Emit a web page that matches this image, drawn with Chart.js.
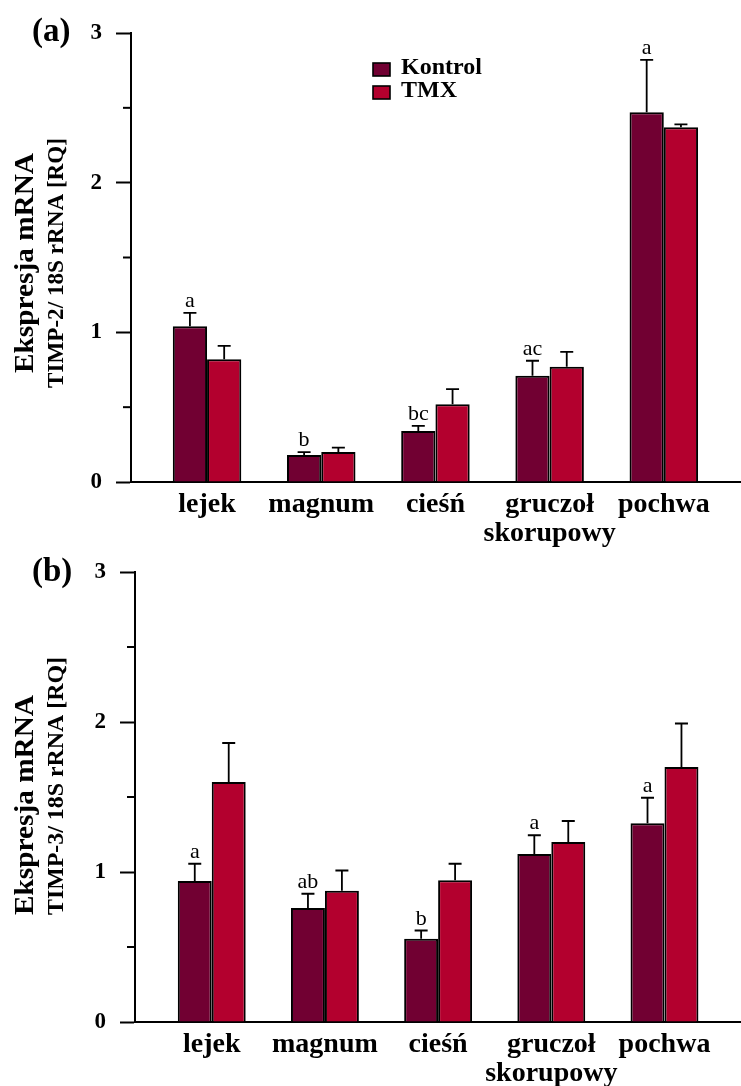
<!DOCTYPE html>
<html>
<head>
<meta charset="utf-8">
<script src="https://cdn.jsdelivr.net/npm/chart.js@4.4.0/dist/chart.umd.min.js"></script>
<style>
body { margin: 0; background: #fff; }
#wrap { position: relative; width: 741px; height: 1086px; overflow: hidden; }
canvas { position: absolute; left: 0; }
#chartA { top: 0; }
#chartB { top: 540px; }
</style>
</head>
<body>
<div id="wrap">
  <canvas id="chartA" width="741" height="556"></canvas>
  <canvas id="chartB" width="741" height="546"></canvas>
</div>
<script>
var categories = ["lejek", "magnum", "cieśń", ["gruczoł", "skorupowy"], "pochwa"];
var seriesNames = ["Kontrol", "TMX"];
var seriesColors = ["#710032", "#b3002e"];
var yTickValues = [0, 1, 2, 3];
var yMinorTicks = [0.5, 1.5, 2.5];

// (a) TIMP-2
var timp2Kontrol = [1.04, 0.18, 0.34, 0.71, 2.47];
var timp2KontrolErr = [0.09, 0.02, 0.035, 0.10, 0.35];
var timp2Tmx = [0.82, 0.20, 0.52, 0.77, 2.37];
var timp2TmxErr = [0.09, 0.03, 0.10, 0.10, 0.02];
var timp2Letters = ["a", "b", "bc", "ac", "a"];

// (b) TIMP-3
var timp3Kontrol = [0.94, 0.76, 0.555, 1.12, 1.325];
var timp3KontrolErr = [0.115, 0.095, 0.055, 0.125, 0.17];
var timp3Tmx = [1.60, 0.875, 0.945, 1.20, 1.70];
var timp3TmxErr = [0.26, 0.135, 0.11, 0.14, 0.29];
var timp3Letters = ["a", "ab", "b", "a", "a"];

var serif = '"Liberation Serif", "Times New Roman", serif';

function points(values) {
  return values.map(function (v, i) { return { x: i, y: v }; });
}

// error bars + letters above Kontrol
var errorBars = {
  id: "errorBars",
  afterDatasetsDraw: function (chart) {
    var ctx = chart.ctx;
    var y = chart.scales.y;
    ctx.save();
    ctx.strokeStyle = "#000";
    ctx.fillStyle = "#000";
    ctx.lineWidth = 1.8;
    chart.data.datasets.forEach(function (ds, di) {
      var meta = chart.getDatasetMeta(di);
      meta.data.forEach(function (bar, i) {
        var top = y.getPixelForValue(ds.data[i].y + ds.errors[i]);
        ctx.beginPath();
        ctx.moveTo(bar.x, bar.y);
        ctx.lineTo(bar.x, top);
        ctx.moveTo(bar.x - 6.5, top);
        ctx.lineTo(bar.x + 6.5, top);
        ctx.stroke();
        if (ds.letters && ds.letters[i]) {
          ctx.font = "22px " + serif;
          ctx.textAlign = "center";
          ctx.textBaseline = "alphabetic";
          ctx.fillText(ds.letters[i], bar.x, top - 6);
        }
      });
    });
    ctx.restore();
  }
};

function fitRotated(ctx, text, x, y, len, align) {
  var w = ctx.measureText(text).width;
  ctx.save();
  ctx.translate(x, y);
  ctx.rotate(-Math.PI / 2);
  ctx.scale(len / w, 1);
  ctx.textAlign = align;
  ctx.textBaseline = "alphabetic";
  ctx.fillText(text, 0, 0);
  ctx.restore();
}

// side titles, panel letter, minor ticks, legend
var decorations = {
  id: "decorations",
  afterDraw: function (chart, args, o) {
    var ctx = chart.ctx;
    var y = chart.scales.y;
    var left = chart.chartArea.left;
    ctx.save();
    ctx.fillStyle = "#000";
    ctx.strokeStyle = "#000";
    ctx.lineWidth = 2;
    yMinorTicks.forEach(function (v) {
      var py = y.getPixelForValue(v);
      ctx.beginPath();
      ctx.moveTo(left - 8, py);
      ctx.lineTo(left, py);
      ctx.stroke();
    });

    ctx.font = "bold 33px " + serif;
    ctx.textAlign = "left";
    ctx.textBaseline = "alphabetic";
    ctx.fillText(o.panel, 32, o.panelY);

    ctx.font = "bold 27px " + serif;
    fitRotated(ctx, "Ekspresja mRNA", 33, o.titleY, 220, o.titleAlign);
    ctx.font = "bold 24px " + serif;
    fitRotated(ctx, o.subtitle, 63, o.titleY, o.subLen, o.titleAlign);

    if (o.legend) {
      ctx.font = "bold 24px " + serif;
      chart.data.datasets.forEach(function (ds, i) {
        var ly = 63 + i * 23;
        ctx.fillStyle = ds.backgroundColor;
        ctx.fillRect(373, ly, 17, 13);
        ctx.lineWidth = 1.6;
        ctx.strokeRect(373, ly, 17, 13);
        ctx.fillStyle = "#000";
        ctx.fillText(ds.label, 401, ly + 11);
      });
    }
    ctx.restore();
  }
};

function makeChart(id, kontrol, kontrolErr, tmx, tmxErr, letters, p) {
  var canvas = document.getElementById(id);
  return new Chart(canvas.getContext("2d"), {
    type: "bar",
    data: {
      datasets: [{
        label: seriesNames[0],
        data: points(kontrol),
        errors: kontrolErr,
        letters: letters,
        backgroundColor: seriesColors[0],
        borderColor: "#000",
        borderWidth: 2
      }, {
        label: seriesNames[1],
        data: points(tmx),
        errors: tmxErr,
        backgroundColor: seriesColors[1],
        borderColor: "#000",
        borderWidth: 2
      }]
    },
    options: {
      responsive: false,
      animation: false,
      categoryPercentage: 0.6,
      barPercentage: 1.0,
      layout: { padding: { top: p.top, left: 0, right: 0, bottom: 0 } },
      plugins: {
        legend: { display: false },
        tooltip: { enabled: false },
        decorations: p.deco
      },
      scales: {
        x: {
          type: "linear",
          offset: false,
          min: p.xMin,
          max: p.xMax,
          afterBuildTicks: function (scale) {
            scale.ticks = categories.map(function (c, i) { return { value: i }; });
          },
          afterFit: function (scale) { scale.height = p.xHeight; },
          grid: { display: false, offset: false },
          border: { display: true, color: "#000", width: 2 },
          ticks: {
            autoSkip: false,
            maxRotation: 0,
            padding: 0,
            color: "#000",
            font: { family: serif, size: 28, weight: "bold", lineHeight: 1.05 },
            callback: function (v) { return categories[v]; }
          }
        },
        y: {
          min: 0,
          max: 3,
          afterBuildTicks: function (scale) {
            scale.ticks = yTickValues.map(function (v) { return { value: v }; });
          },
          afterFit: function (scale) { scale.width = p.left; },
          grid: { drawOnChartArea: false, drawTicks: true, tickLength: 15, tickColor: "#000", tickWidth: 2 },
          border: { display: true, color: "#000", width: 2 },
          ticks: {
            padding: 14,
            color: "#000",
            font: { family: serif, size: 23, weight: "bold" }
          }
        }
      }
    },
    plugins: [errorBars, decorations]
  });
}

makeChart("chartA", timp2Kontrol, timp2KontrolErr, timp2Tmx, timp2TmxErr, timp2Letters, {
  top: 33, left: 131, xHeight: 74, xMin: -0.666, xMax: 4.676,
  deco: { panel: "(a)", panelY: 41, subtitle: "TIMP-2/ 18S rRNA [RQ]", titleY: 263, titleAlign: "center", subLen: 250, legend: true }
});

makeChart("chartB", timp3Kontrol, timp3KontrolErr, timp3Tmx, timp3TmxErr, timp3Letters, {
  top: 32, left: 135, xHeight: 64, xMin: -0.678, xMax: 4.676,
  deco: { panel: "(b)", panelY: 41, subtitle: "TIMP-3/ 18S rRNA [RQ]", titleY: 375, titleAlign: "left", subLen: 258, legend: false }
});
</script>
</body>
</html>
